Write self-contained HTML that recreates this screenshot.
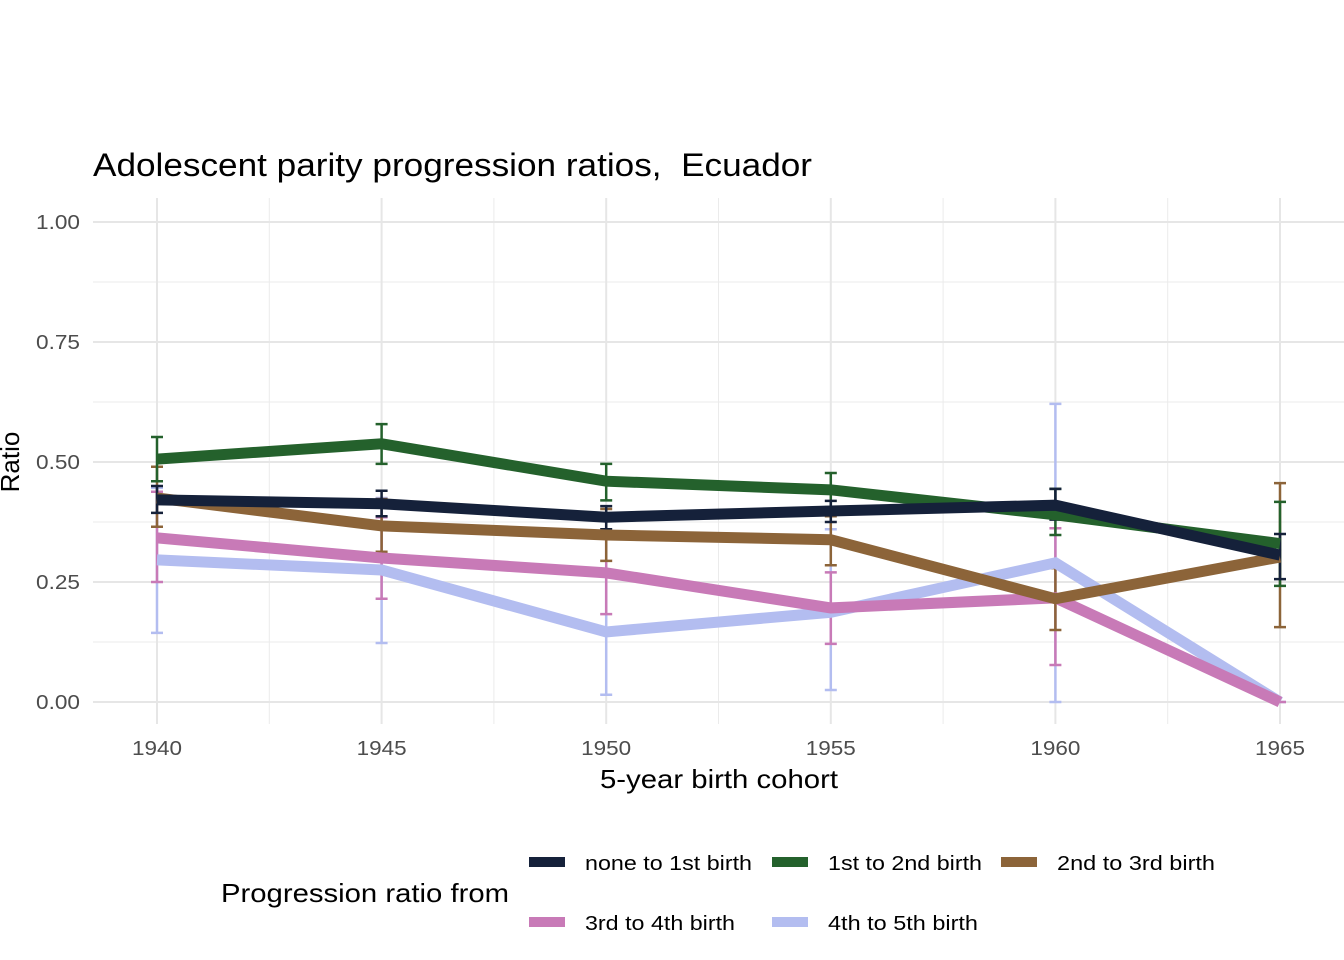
<!DOCTYPE html>
<html><head><meta charset="utf-8"><style>
body{margin:0;background:#fff;}
svg{display:block;font-family:"Liberation Sans",Arial,sans-serif;}
</style></head><body>
<svg id="chart" width="1344" height="960" viewBox="0 0 1344 960">
<rect width="1344" height="960" fill="#fff"/>
<text x="93" y="176" font-size="32" fill="#000" textLength="719" lengthAdjust="spacingAndGlyphs">Adolescent parity progression ratios,&#160; Ecuador</text>
<g id="grid"></g>
<g id="axes"></g>
<g id="series"></g>
<text x="600" y="788" font-size="26" fill="#000" textLength="238" lengthAdjust="spacingAndGlyphs">5-year birth cohort</text>
<text transform="translate(19,462) rotate(-90)" font-size="26" text-anchor="middle" fill="#000">Ratio</text>
<text x="221" y="902" font-size="26" fill="#000" textLength="288" lengthAdjust="spacingAndGlyphs">Progression ratio from</text>
<g id="legend"></g>
</svg>
<script>
const years=[1940,1945,1950,1955,1960,1965];
const yTicks=[0,0.25,0.5,0.75,1.0];
const yTickLabels=["0.00","0.25","0.50","0.75","1.00"];
const seriesNames=["none to 1st birth","1st to 2nd birth","2nd to 3rd birth","3rd to 4th birth","4th to 5th birth"];
const colors=["#15213a","#24612c","#8c6439","#c87ab7","#b3bdf0"];
const valsNone=[0.421,0.413,0.385,0.398,0.41,0.306];
const loNone=[0.394,0.387,0.36,0.375,0.38,0.256];
const hiNone=[0.45,0.44,0.408,0.419,0.444,0.35];
const valsFirst=[0.506,0.538,0.46,0.442,0.39,0.33];
const loFirst=[0.46,0.496,0.42,0.406,0.348,0.242];
const hiFirst=[0.552,0.579,0.496,0.477,0.444,0.417];
const valsSecond=[0.425,0.367,0.348,0.338,0.215,0.302];
const loSecond=[0.365,0.313,0.294,0.285,0.15,0.156];
const hiSecond=[0.49,0.423,0.402,0.387,0.279,0.456];
const valsThird=[0.342,0.30,0.269,0.196,0.217,0.0];
const loThird=[0.25,0.215,0.183,0.121,0.077,0.0];
const hiThird=[0.438,0.385,0.352,0.27,0.362,0.0];
const valsFourth=[0.296,0.275,0.146,0.187,0.29,0.0];
const loFourth=[0.144,0.123,0.015,0.025,0.0,0.0];
const hiFourth=[0.446,0.425,0.273,0.36,0.621,0.0];

const allVals=[valsNone,valsFirst,valsSecond,valsThird,valsFourth];
const allLo=[loNone,loFirst,loSecond,loThird,loFourth];
const allHi=[hiNone,hiFirst,hiSecond,hiThird,hiFourth];

const NS="http://www.w3.org/2000/svg";
const X0=157,X1=1280,Y0=702,Y1=222;
const xs=y=>X0+(y-1940)/(1965-1940)*(X1-X0);
const ys=v=>Y0-v*(Y0-Y1);
function mk(tag,attrs,parent){const e=document.createElementNS(NS,tag);for(const k in attrs)e.setAttribute(k,attrs[k]);parent.appendChild(e);return e;}
const grid=document.getElementById('grid'),axes=document.getElementById('axes'),ser=document.getElementById('series'),leg=document.getElementById('legend');
const PL=93,PR=1344,PT=198,PB=724;
for(let i=0;i<yTicks.length-1;i++){
 const ym=ys((yTicks[i]+yTicks[i+1])/2);
 const e=mk('line',{x1:PL,x2:PR,y1:ym,y2:ym,stroke:'#ebebeb','stroke-width':1},grid);
 
 
}
for(let i=0;i<years.length-1;i++){
 const xm=xs((years[i]+years[i+1])/2);
 const e=mk('line',{x1:xm,x2:xm,y1:PT,y2:PB,stroke:'#ebebeb','stroke-width':1},grid);
 
 
}
yTicks.forEach((t,i)=>{
 const e=mk('line',{x1:PL,x2:PR,y1:ys(t),y2:ys(t),stroke:'#e6e6e6','stroke-width':2},grid);
 
 
 const l=mk('text',{x:36,y:ys(t)+7,'font-size':20,fill:'#4d4d4d',textLength:44,lengthAdjust:'spacingAndGlyphs'},axes);
 l.textContent=yTickLabels[i];
 
 
});
years.forEach(yr=>{
 const e=mk('line',{x1:xs(yr),x2:xs(yr),y1:PT,y2:PB,stroke:'#e6e6e6','stroke-width':2},grid);
 
 
 const l=mk('text',{x:xs(yr)-25,y:755,'font-size':20,fill:'#4d4d4d',textLength:50,lengthAdjust:'spacingAndGlyphs'},axes);
 l.textContent=String(yr);
 
 
});
const order=[4,3,2,1,0];
order.forEach(s=>{
 const g=mk('g',{},ser);
 
 
 years.forEach((yr,i)=>{
  const x=xs(yr),lo=ys(allLo[s][i]),hi=ys(allHi[s][i]);
  const eb=mk('path',{d:`M${x-6},${hi}H${x+6}M${x},${hi}V${lo}M${x-6},${lo}H${x+6}`,stroke:colors[s],'stroke-width':2.5,fill:'none'},g);
  
  
 });
});
order.forEach(s=>{
 const vals=allVals[s];
 const pts=years.map((yr,i)=>xs(yr)+','+ys(vals[i])).join(' ');
 const pl=mk('polyline',{points:pts,stroke:colors[s],'stroke-width':11,fill:'none','stroke-linejoin':'miter'},ser);
 
 
});
const legPos=[[529,862],[772,862],[1001,862],[529,922],[772,922]];
const legLen=[167,154,158,150,150];
seriesNames.forEach((n,s)=>{
 const [lx,ly]=legPos[s];
 const g=mk('g',{},leg);
 
 
 mk('rect',{x:lx,y:ly-5,width:36,height:10,fill:colors[s]},g);
 const t=mk('text',{x:lx+56,y:ly+8,'font-size':20,fill:'#000',textLength:legLen[s],lengthAdjust:'spacingAndGlyphs'},g);
 t.textContent=n;
});
</script>
</body></html>
